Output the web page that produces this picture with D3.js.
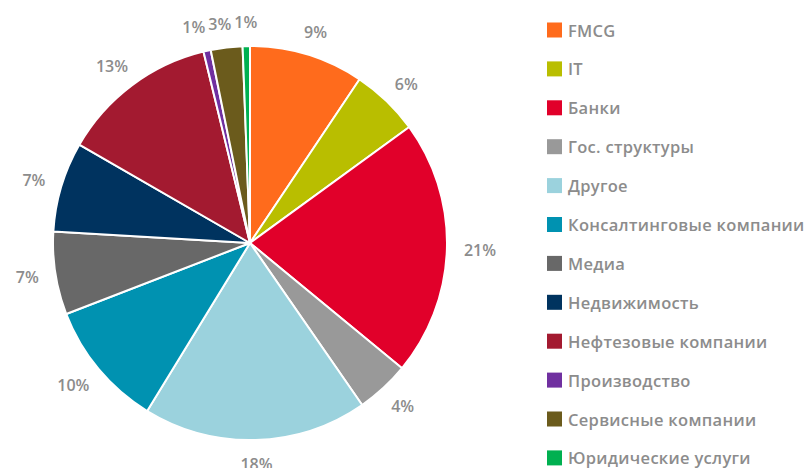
<!DOCTYPE html>
<html>
<head>
<meta charset="utf-8">
<script src="https://cdn.jsdelivr.net/npm/d3@7"></script>
<style>
  body { margin: 0; background: #fff; }
  svg { display: block; }
  text { font-family: "Open Sans", sans-serif; }
</style>
</head>
<body>
<script>
// data

const categories = [
  "FMCG", "IT", "Банки", "Гос. структуры", "Другое", "Консалтинговые компании",
  "Медиа", "Недвижимость", "Нефтезовые компании", "Производство",
  "Сервисные компании", "Юридические услуги"
];
const shares = [9.4, 5.6, 21.0, 4.4, 18.4, 10.4, 6.8, 7.4, 12.9, 0.6, 2.6, 0.6];
const percentLabels = ["9%", "6%", "21%", "4%", "18%", "10%", "7%", "7%", "13%", "1%", "3%", "1%"];
const colors = [
  "#ff6b1c", "#b9be00", "#e1002a", "#999999", "#9bd2dd", "#0092b1",
  "#686868", "#00335f", "#a31a30", "#7030a0", "#6b5b1c", "#00b050"
];

// dimensions

const dms = { width: 807, height: 468, cx: 250, cy: 243, r: 197 };

const svg = d3.select("body")
  .append("svg")
    .attr("width", dms.width)
    .attr("height", dms.height);

const rows = categories.map((c, i) => ({ name: c, value: shares[i], label: percentLabels[i], color: colors[i] }));

const pie = d3.pie().sort(null).value(d => d.value);
const arc = d3.arc().innerRadius(0).outerRadius(dms.r);
const arcs = pie(rows);

const g = svg.append("g")
  .attr("transform", `translate(${dms.cx},${dms.cy})`);

g.selectAll("path")
  .data(arcs)
  .enter()
  .append("path")
    .attr("d", arc)
    .attr("fill", d => d.data.color)
    .attr("stroke", "#fff")
    .attr("stroke-width", 2)
    .attr("stroke-linejoin", "round");

// labels outside the pie, pushed out by half their box

const labelGap = dms.r + 17;
const labelH = 14;
const labels = g.selectAll("text.pct")
  .data(arcs)
  .enter()
  .append("text")
    .attr("class", "pct")
    .attr("text-anchor", "middle")
    .attr("dominant-baseline", "central")
    .attr("font-size", 16)
    .attr("font-weight", 600)
    .attr("fill", "#8c8c8c")
    .text(d => d.data.label);

const pos = [];
labels.each(function(d) {
  const w = this.getComputedTextLength();
  const a = (d.startAngle + d.endAngle) / 2;
  const s = Math.sin(a), c = Math.cos(a);
  pos.push({
    x: labelGap * s + (w / 2) * s,
    y: -labelGap * c - (labelH / 2) * c,
    w: w
  });
});

// spread crowded labels near the top: walk from the last slice leftwards
for (let i = pos.length - 2; i >= 0; i--) {
  const a = pos[i], b = pos[i + 1];
  if (Math.abs(a.y - b.y) < labelH && a.x + a.w / 2 + 3 > b.x - b.w / 2 && a.x < b.x + 1) {
    a.x = b.x - b.w / 2 - a.w / 2 - 3;
  }
}

labels
  .attr("x", (d, i) => pos[i].x)
  .attr("y", (d, i) => pos[i].y);

// legend

const legend = svg.append("g")
  .attr("transform", "translate(547,30)");

const items = legend.selectAll("g")
  .data(rows)
  .enter()
  .append("g")
    .attr("transform", (d, i) => `translate(0,${i * 38.9})`);

items.append("rect")
  .attr("x", 0)
  .attr("y", -7.5)
  .attr("width", 15)
  .attr("height", 15)
  .attr("fill", d => d.color);

items.append("text")
  .attr("x", 21)
  .attr("y", 0)
  .attr("dominant-baseline", "central")
  .attr("font-size", 16.5)
  .attr("font-weight", 600)
  .attr("letter-spacing", 0.3)
  .attr("fill", "#8c8c8c")
  .text(d => d.name);
</script>
</body>
</html>
